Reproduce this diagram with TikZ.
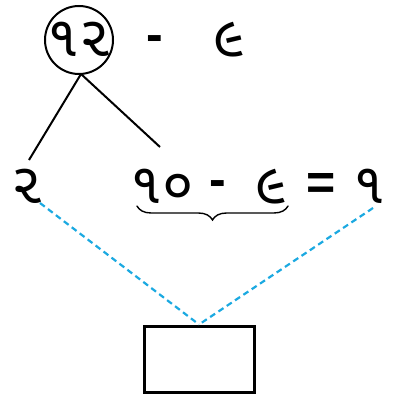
\documentclass[tikz,border=0pt]{standalone}
\usepackage{fontspec}
\newfontfamily\gujfont[Script=Gujarati]{Noto Sans Gujarati UI}
\newfontfamily\signfont{Liberation Sans}
\usetikzlibrary{positioning, decorations.pathreplacing}
\definecolor{dashblue}{HTML}{1BA9E1}

\begin{document}
\begin{tikzpicture}[x=1pt, y=-1pt,
  num/.style={font=\gujfont\fontsize{57}{57}\selectfont, inner sep=0pt, anchor=base},
  sign/.style={font=\signfont\bfseries\fontsize{50}{50}\selectfont, inner sep=0pt},
  link/.style={line width=2pt, black},
  guide/.style={line width=2.2pt, color=dashblue, dash pattern=on 6pt off 4pt},
  answer/.style={draw, line width=3pt, minimum width=110pt, minimum height=66pt}]
  \useasboundingbox (0,0) rectangle (395,401);

  % top problem
  \draw[link] (79,40) circle (34);
  \node[num] (twelve) at (79,57) {૧૨};
  \node[sign] (minusA) at (155,44) {-};
  \node[num] (nine) at (229,57) {૯};

  % split
  \node[num] (two) at (27,203) {૨};
  \node[num] (ten) at (162,203) {૧૦};
  \node[sign] (minusB) at (218,189) {-};
  \node[num] (nineB) at (271,203) {૯};
  \node[sign] (equals) at (321,186) {=};
  \node[num] (one) at (369,203) {૧};

  \coordinate (top) at (81,74);
  \coordinate (leftend) at (29,160);
  \coordinate (rightend) at (160,147);
  \draw[link] (top) -- (leftend);
  \draw[link] (top) -- (rightend);

  % brace under the subtraction
  \coordinate (braceL) at (137,206);
  \coordinate (braceR) at (288,206);
  \draw[line width=1.4pt, line cap=round, decorate,
    decoration={brace, mirror, amplitude=14pt, aspect=0.5}] (braceL) -- (braceR);

  % answer box
  \node[answer] (box) at (199,359) {};
  \coordinate (guideL) at (40,203);
  \coordinate (guideR) at (373,208);
  \draw[guide] (guideL) -- (box.north);
  \draw[guide] (guideR) -- (box.north);
\end{tikzpicture}
\end{document}
